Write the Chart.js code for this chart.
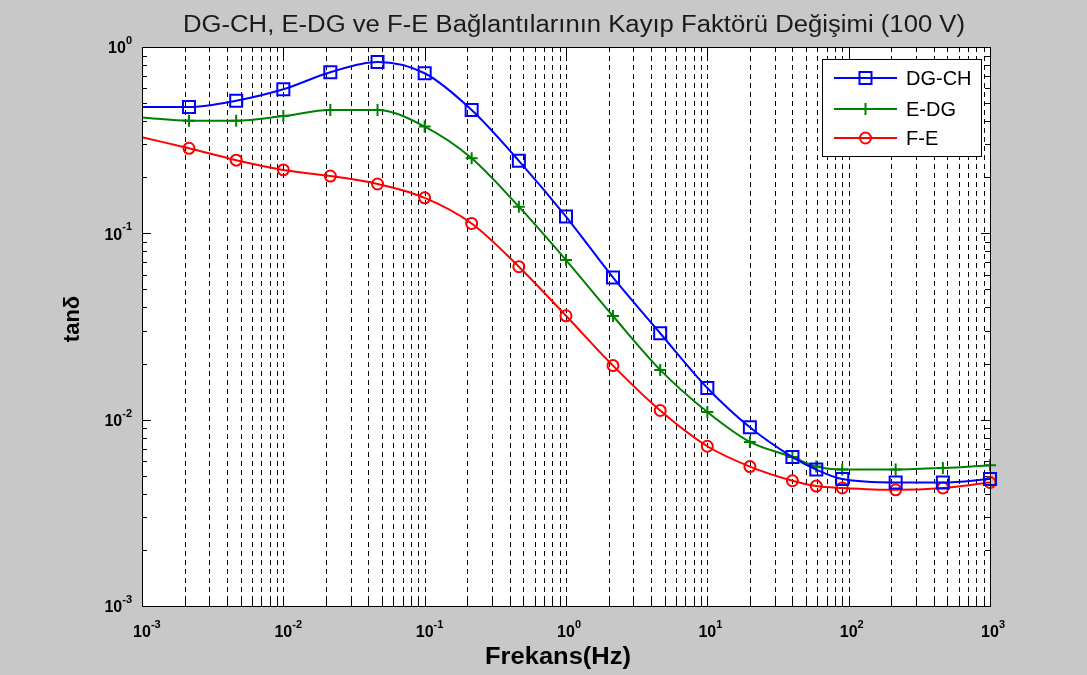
<!DOCTYPE html>
<html>
<head>
<meta charset="utf-8">
<script src="https://cdn.jsdelivr.net/npm/chart.js@4.4.0/dist/chart.umd.min.js"></script>
<style>
  html, body { margin: 0; padding: 0; background: #c8c8c8; }
  #wrap { width: 1087px; height: 675px; position: relative; }
</style>
</head>
<body>
<div id="wrap"><canvas id="c" width="1087" height="675"></canvas></div>
<script>
// ---- data ----
const titleText = "DG-CH, E-DG ve F-E Bağlantılarının Kayıp Faktörü Değişimi (100 V)";
const xTitle = "Frekans(Hz)";
const yTitle = "tanδ";
const seriesNames = ["DG-CH", "E-DG", "F-E"];
const frequencies = [0.001, 0.00215, 0.00464, 0.01, 0.0215, 0.0464, 0.1, 0.215, 0.464, 1, 2.15, 4.64, 10, 20, 40, 59, 90, 215, 464, 1000];
const dgch = [0.476, 0.476, 0.515, 0.593, 0.732, 0.831, 0.723, 0.459, 0.245, 0.123, 0.058, 0.0291, 0.0148, 0.0091, 0.0063, 0.0054, 0.0048, 0.0046, 0.0046, 0.0048];
const edg  = [0.419, 0.402, 0.402, 0.426, 0.459, 0.459, 0.374, 0.253, 0.139, 0.0719, 0.036, 0.0185, 0.0110, 0.0076, 0.0063, 0.0056, 0.0054, 0.0054, 0.0055, 0.0057];
const fe   = [0.328, 0.286, 0.247, 0.219, 0.203, 0.184, 0.155, 0.113, 0.0662, 0.0361, 0.0195, 0.0112, 0.0072, 0.0056, 0.0047, 0.0044, 0.0043, 0.0042, 0.0043, 0.0046];
const xTickExps = [-3, -2, -1, 0, 1, 2, 3];
const yTickExps = [-3, -2, -1, 0];

const colors = ["#0000ff", "#008000", "#ff0000"];
const styles = ["rect", "cross", "circle"];
const radii = [8.5, 6, 5.5];

function pts(arr) { return frequencies.map((f, i) => ({ x: f, y: arr[i] })); }
function radiusArr(r) { return frequencies.map((f, i) => i === 0 ? 0 : r); }

const datasets = [dgch, edg, fe].map((arr, k) => ({
  label: seriesNames[k],
  data: pts(arr),
  borderColor: colors[k],
  backgroundColor: "rgba(0,0,0,0)",
  borderWidth: 2,
  pointStyle: styles[k],
  pointRadius: radiusArr(radii[k]),
  pointBorderWidth: 2,
  pointBorderColor: colors[k],
  pointBackgroundColor: "rgba(0,0,0,0)",
  cubicInterpolationMode: "monotone",
  clip: 12
}));

const FONT = "'Liberation Sans', Arial, sans-serif";

function drawPow(ctx, x, y, exp, align) {
  const base = "10", sup = String(exp);
  ctx.font = "bold 16px " + FONT;
  const wb = ctx.measureText(base).width;
  ctx.font = "bold 11px " + FONT;
  const ws = ctx.measureText(sup).width;
  let left;
  if (align === "center") left = x - wb / 2;
  else left = x - wb - ws;
  ctx.fillStyle = "#000";
  ctx.textBaseline = "middle";
  ctx.textAlign = "left";
  ctx.font = "bold 16px " + FONT;
  ctx.fillText(base, left, y);
  ctx.font = "bold 11px " + FONT;
  ctx.fillText(sup, left + wb, y - 8);
}

function fitText(ctx, text, cx, baseline, font, targetW) {
  ctx.font = font;
  const w = ctx.measureText(text).width;
  ctx.save();
  ctx.translate(cx, baseline);
  ctx.scale(targetW / w, 1);
  ctx.textAlign = "center";
  ctx.textBaseline = "alphabetic";
  ctx.fillText(text, 0, 0);
  ctx.restore();
}

const plot = {
  id: "matlabLook",
  beforeDatasetsDraw(chart) {
    const { ctx, chartArea: a, scales } = chart;
    const xs = scales.x, ys = scales.y;
    ctx.save();
    ctx.fillStyle = "#ffffff";
    ctx.fillRect(a.left, a.top, a.right - a.left, a.bottom - a.top);
    ctx.strokeStyle = "#000";
    ctx.lineWidth = 1;
    ctx.setLineDash([5, 4]);
    for (let e = -3; e < 3; e++) {
      for (let m = 1; m <= 9; m++) {
        if (e === -3 && m === 1) continue;
        const v = m * Math.pow(10, e);
        const px = Math.round(xs.getPixelForValue(v)) + 0.5;
        ctx.beginPath();
        ctx.moveTo(px, a.top);
        ctx.lineTo(px, a.bottom);
        ctx.stroke();
      }
    }
    ctx.setLineDash([]);
    for (let e = -3; e <= 3; e++) {
      for (let m = 1; m <= 9; m++) {
        if (e === 3 && m > 1) break;
        const v = m * Math.pow(10, e);
        const px = Math.round(xs.getPixelForValue(v)) + 0.5;
        const len = m === 1 ? 9 : 5;
        ctx.beginPath();
        ctx.moveTo(px, a.bottom); ctx.lineTo(px, a.bottom - len);
        ctx.moveTo(px, a.top); ctx.lineTo(px, a.top + len);
        ctx.stroke();
      }
    }
    for (let e = -3; e <= 0; e++) {
      for (let m = 1; m <= 9; m++) {
        if (e === 0 && m > 1) break;
        const v = m * Math.pow(10, e);
        const py = Math.round(ys.getPixelForValue(v)) + 0.5;
        const len = m === 1 ? 9 : 5;
        ctx.beginPath();
        ctx.moveTo(a.left, py); ctx.lineTo(a.left + len, py);
        ctx.moveTo(a.right, py); ctx.lineTo(a.right - len, py);
        ctx.stroke();
      }
    }
    ctx.restore();
  },
  afterDraw(chart) {
    const { ctx, chartArea: a, scales } = chart;
    const xs = scales.x, ys = scales.y;
    ctx.save();
    ctx.strokeStyle = "#000";
    ctx.lineWidth = 1;
    ctx.strokeRect(Math.round(a.left) + 0.5, Math.round(a.top) + 0.5, Math.round(a.right - a.left), Math.round(a.bottom - a.top));
    xTickExps.forEach(e => drawPow(ctx, xs.getPixelForValue(Math.pow(10, e)), a.bottom + 27, e, "center"));
    yTickExps.forEach(e => drawPow(ctx, a.left - 10, ys.getPixelForValue(Math.pow(10, e)) + 2, e, "right"));
    // titles
    ctx.fillStyle = "#1a1a1a";
    fitText(ctx, titleText, 574, 32, "23px " + FONT, 782);
    ctx.fillStyle = "#000";
    fitText(ctx, xTitle, 558, 664, "bold 23px " + FONT, 146);
    ctx.save();
    ctx.translate(79, 319);
    ctx.rotate(-Math.PI / 2);
    ctx.font = "bold 22px " + FONT;
    ctx.textAlign = "center";
    ctx.textBaseline = "alphabetic";
    ctx.fillText(yTitle, 0, 0);
    ctx.restore();
    // legend
    const lx = 822, ly = 59, lw = 159, lh = 97;
    ctx.fillStyle = "#fff";
    ctx.fillRect(lx, ly, lw, lh);
    ctx.strokeStyle = "#000";
    ctx.lineWidth = 1;
    ctx.strokeRect(lx + 0.5, ly + 0.5, lw, lh);
    const rowsY = [78, 109, 138];
    chart.data.datasets.forEach((ds, k) => {
      const y = rowsY[k];
      ctx.strokeStyle = ds.borderColor;
      ctx.fillStyle = "rgba(0,0,0,0)";
      ctx.lineWidth = 2;
      ctx.beginPath();
      ctx.moveTo(834, y); ctx.lineTo(897, y);
      ctx.stroke();
      Chart.helpers.drawPoint(ctx, { pointStyle: ds.pointStyle, radius: radii[k], borderWidth: 2 }, 865.5, y);
      ctx.fillStyle = "#000";
      ctx.font = "20px " + FONT;
      ctx.textAlign = "left";
      ctx.textBaseline = "middle";
      ctx.fillText(ds.label, 906, y + 1);
    });
    ctx.restore();
  }
};

new Chart(document.getElementById("c"), {
  type: "line",
  data: { datasets },
  plugins: [plot],
  options: {
    responsive: false,
    animation: false,
    layout: { padding: { top: 47, right: 97, left: 0, bottom: 0 } },
    plugins: { legend: { display: false }, title: { display: false }, tooltip: { enabled: false } },
    scales: {
      x: {
        type: "logarithmic", min: 0.001, max: 1000,
        ticks: { display: false }, grid: { display: false }, border: { display: false },
        afterFit: s => { s.height = 69; }
      },
      y: {
        type: "logarithmic", min: 0.001, max: 1,
        ticks: { display: false }, grid: { display: false }, border: { display: false },
        afterFit: s => { s.width = 142; }
      }
    }
  }
});
</script>
</body>
</html>
